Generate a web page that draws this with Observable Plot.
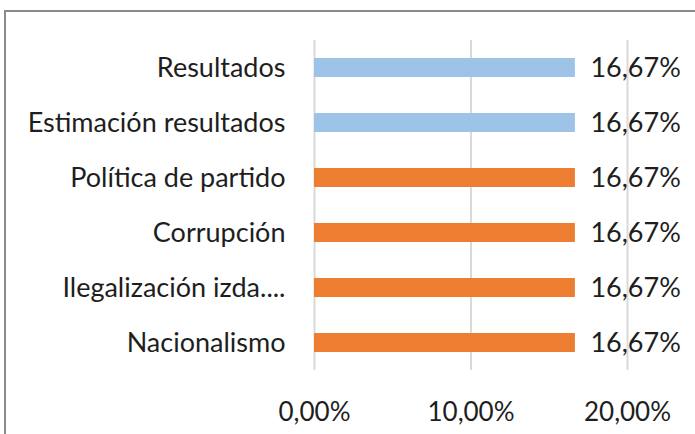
<!DOCTYPE html>
<html>
<head>
<meta charset="utf-8">
<script src="https://cdn.jsdelivr.net/npm/d3@7"></script>
<script src="https://cdn.jsdelivr.net/npm/@observablehq/plot@0.6"></script>
<style>
  html, body { margin: 0; padding: 0; background: #fff; }
  #wrap { position: relative; width: 695px; height: 434px; overflow: hidden; }
  #frame { position: absolute; left: 4px; top: 10px; width: 800px; height: 600px;
           border: 2px solid #8a8a8a; box-sizing: border-box; pointer-events: none; }
  #wrap svg { position: absolute; left: 0; top: 0; }
</style>
</head>
<body>
<div id="wrap"><div id="frame"></div></div>
<script>
const categories = ["Resultados", "Estimación resultados", "Política de partido", "Corrupción", "Ilegalización izda....", "Nacionalismo"];
const values = [0.1667, 0.1667, 0.1667, 0.1667, 0.1667, 0.1667];
const groups = ["resultados", "resultados", "otros", "otros", "otros", "otros"];
const xTicks = [0, 0.1, 0.2];

const data = categories.map((c, i) => ({category: c, value: values[i], group: groups[i]}));
const fmt = v => (v * 100).toFixed(2).replace(".", ",") + "%";

const chart = Plot.plot({
  width: 695,
  height: 434,
  marginTop: 40,
  marginBottom: 64,
  marginLeft: 314,
  marginRight: 68,
  style: {fontFamily: "Lato, sans-serif", fontSize: "27px", color: "#1e1e1e", background: "transparent"},
  x: {domain: [0, 0.2], ticks: xTicks, tickFormat: fmt, label: null},
  y: {domain: categories, paddingInner: 0.655, paddingOuter: 0.3275, label: null},
  color: {domain: ["resultados", "otros"], range: ["#9dc3e6", "#ed7d31"]},
  marks: [
    Plot.gridX(xTicks, {stroke: "#d9d9d9", strokeOpacity: 1, strokeWidth: 2}),
    Plot.barX(data, {x: "value", y: "category", fill: "group"}),
    Plot.text(data, {x: "value", y: "category", text: d => fmt(d.value), textAnchor: "start", dx: 15, fontSize: 27, fill: "#1e1e1e"}),
    Plot.axisX(xTicks, {tickSize: 0, tickPadding: 32, tickFormat: fmt, fontSize: 26, fill: "#1e1e1e"}),
    Plot.axisY({tickSize: 0, tickPadding: 29, fontSize: 27, fill: "#1e1e1e"})
  ]
});
document.getElementById("wrap").appendChild(chart);
</script>
</body>
</html>
